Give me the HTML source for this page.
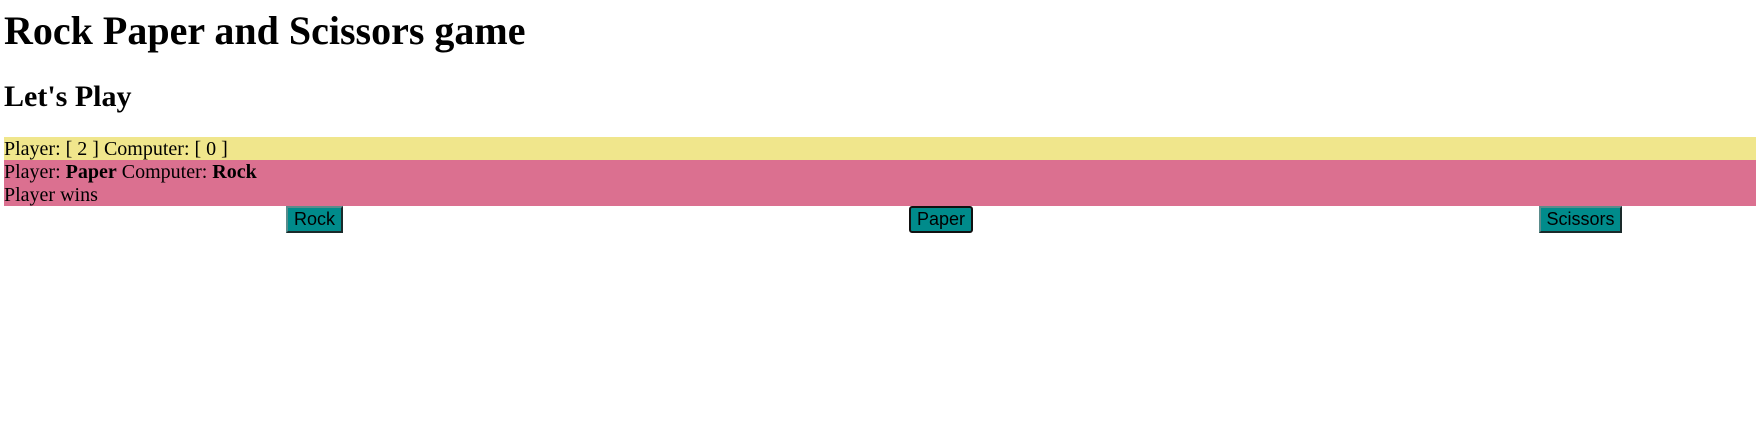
<!DOCTYPE html>
<html>
<head>
<meta charset="utf-8">
<style>
  html,body{margin:0;padding:0;background:#fff;width:1756px;height:435px;overflow:hidden;}
  body{font-family:"Liberation Serif",serif;color:#000;position:relative;}
  h1{position:absolute;left:4px;top:8px;margin:0;font-size:40px;line-height:46px;font-weight:bold;white-space:nowrap;}
  h2{position:absolute;left:4px;top:80px;margin:0;font-size:30px;line-height:34px;font-weight:bold;white-space:nowrap;}
  .score{position:absolute;left:4px;right:0;top:137px;height:23px;background:#f0e68c;font-size:20px;line-height:23px;}
  .result{position:absolute;left:4px;right:0;top:160px;height:46px;background:#db7090;font-size:20px;line-height:23px;}
  .score span,.result div{position:relative;top:1px;}
  .btn{position:absolute;top:206px;height:27px;box-sizing:border-box;background:#008b8b;
       border:2px solid;border-color:#5a8c8c #1a2a2a #1a2a2a #5a8c8c;
       font-family:"Liberation Sans",sans-serif;font-size:18px;line-height:23px;text-align:center;color:#000;padding:0;}
  #paper{border:2px solid #111;border-radius:3px;}
</style>
</head>
<body>
  <h1>Rock Paper and Scissors game</h1>
  <h2>Let's Play</h2>
  <div class="score"><span>Player: [ 2 ] Computer: [ 0 ]</span></div>
  <div class="result">
    <div>Player: <b>Paper</b> Computer: <b>Rock</b></div>
    <div>Player wins</div>
  </div>
  <button class="btn" id="rock" style="left:286px;width:57px;">Rock</button>
  <button class="btn" id="paper" style="left:909px;width:64px;">Paper</button>
  <button class="btn" id="scissors" style="left:1539px;width:83px;">Scissors</button>
</body>
</html>
